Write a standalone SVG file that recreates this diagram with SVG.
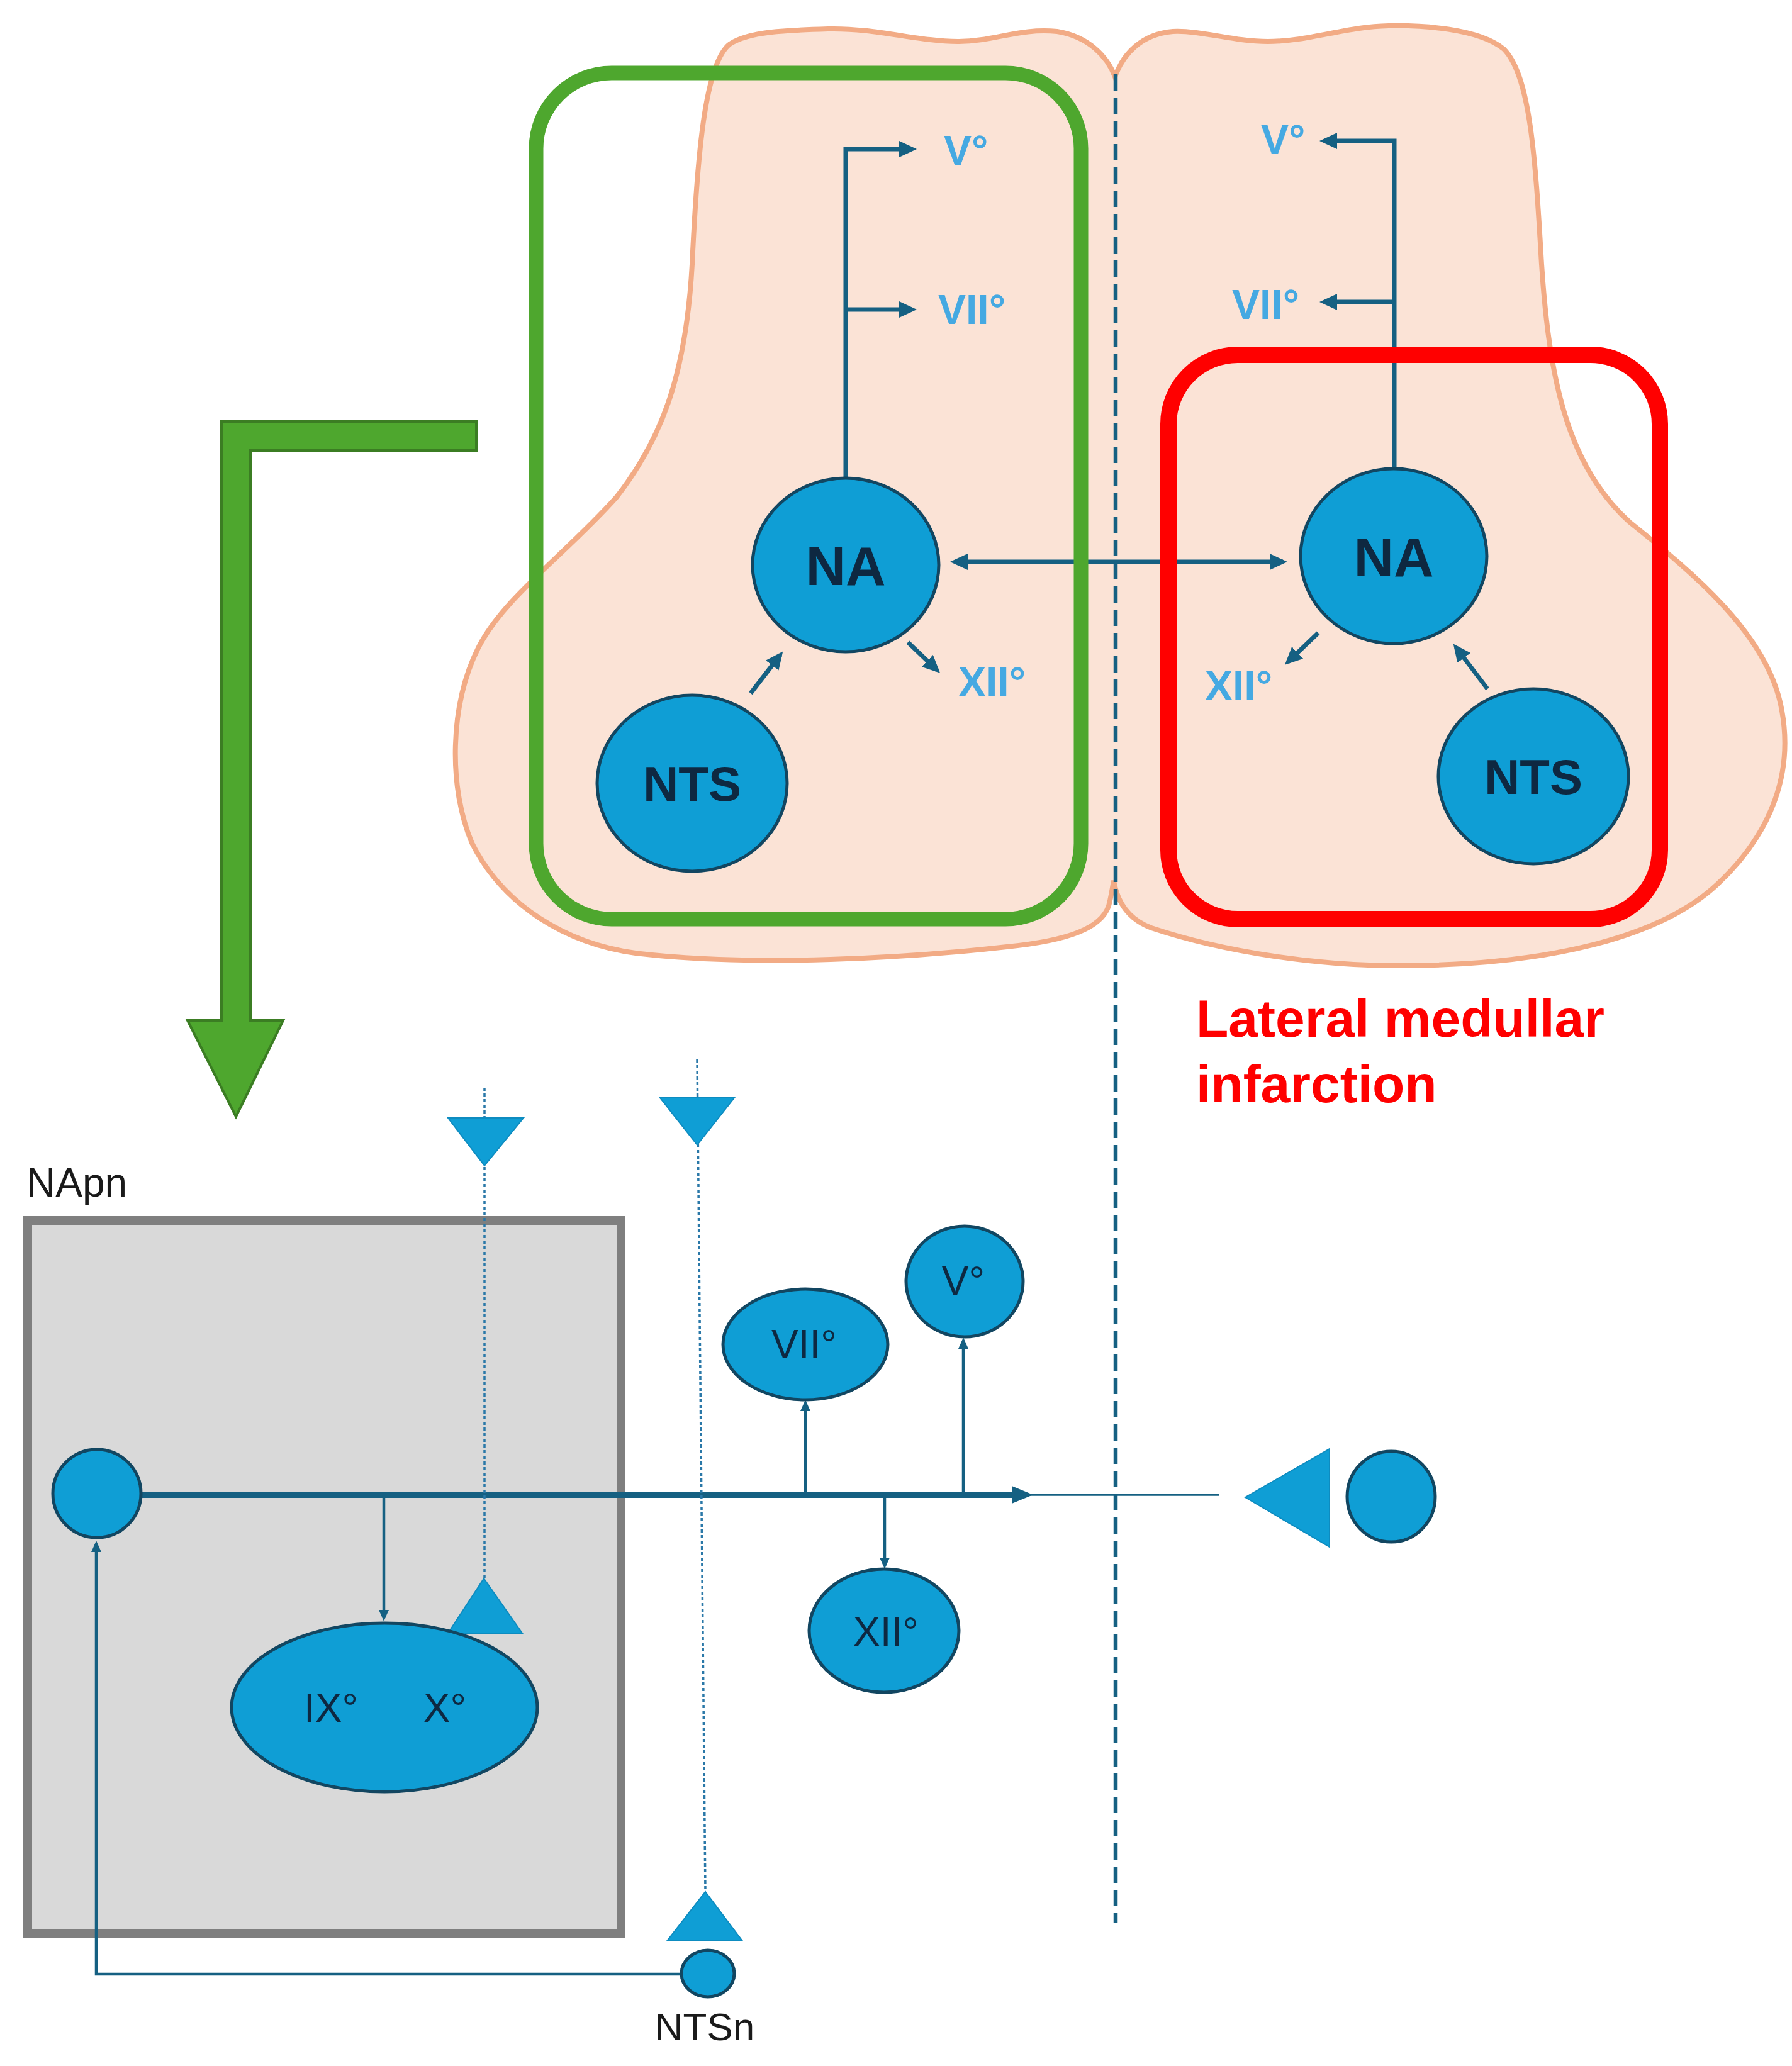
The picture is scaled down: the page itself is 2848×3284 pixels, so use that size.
<svg xmlns="http://www.w3.org/2000/svg" width="2848" height="3284" viewBox="0 0 2848 3284">
<style>
.node{fill:#0F9ED5;stroke:#124661;stroke-width:5}
.tri{fill:#0F9ED5;stroke:#0E8CC0;stroke-width:2}
.ln{fill:none;stroke:#156082;stroke-width:7}
.lnb{fill:none;stroke:#156082;stroke-width:4.5}
.dot{fill:none;stroke:#2A78A8;stroke-width:3.5;stroke-dasharray:5 4}
.big{font-family:"Liberation Sans",Arial,sans-serif;font-weight:bold;fill:#0E2841;text-anchor:middle}
.lab{font-family:"Liberation Sans",Arial,sans-serif;font-weight:bold;fill:#45A9E2;font-size:66px}
.sm{font-family:"Liberation Sans",Arial,sans-serif;fill:#0E2841;font-size:64px;text-anchor:middle}
</style>
<defs>
<marker id="ah" viewBox="0 0 28 26" refX="21" refY="13" markerWidth="28" markerHeight="26" markerUnits="userSpaceOnUse" orient="auto-start-reverse">
<path d="M0,0 L28,13 L0,26 z" fill="#156082"/>
</marker>
<marker id="ahs" viewBox="0 0 18 16" refX="13" refY="8" markerWidth="18" markerHeight="16" markerUnits="userSpaceOnUse" orient="auto">
<path d="M0,0 L18,8 L0,16 z" fill="#156082"/>
</marker>
<marker id="ahm" viewBox="0 0 34 28" refX="22" refY="14" markerWidth="34" markerHeight="28" markerUnits="userSpaceOnUse" orient="auto">
<path d="M0,0 L34,14 L0,28 z" fill="#156082"/>
</marker>
</defs>
<rect width="2848" height="3284" fill="#FFFFFF"/>

<g id="brainstem">
<path d="M1772,122 C1760,90 1730,58 1680,50 C1620,44 1580,66 1522,66 C1460,66 1390,44 1316,46 C1250,48 1190,50 1160,70 C1120,100 1108,250 1100,420 C1090,600 1050,700 980,790 C900,880 800,950 760,1030 C715,1120 712,1250 750,1340 C800,1440 900,1500 1010,1515 C1200,1538 1450,1522 1600,1505 C1700,1495 1750,1475 1762,1440 C1766,1425 1768,1410 1770,1400 C1775,1430 1790,1460 1830,1475 C1950,1515 2100,1535 2220,1535 C2460,1535 2640,1490 2730,1405 C2815,1325 2850,1230 2832,1130 C2812,1010 2690,910 2590,830 C2490,740 2462,600 2450,420 C2440,250 2432,120 2390,78 C2350,45 2260,40 2207,41 C2140,42 2080,66 2015,66 C1960,66 1910,48 1864,50 C1815,54 1785,85 1772,122 Z" fill="#FBE3D6" stroke="#F2AB85" stroke-width="8"/>
</g>

<g id="midline">
<line x1="1773" y1="118" x2="1773" y2="3057" stroke="#156082" stroke-width="6.5" stroke-dasharray="26 11"/>
</g>

<g id="connectors">
<path class="ln" d="M1344,760 V237 H1450" marker-end="url(#ah)"/>
<path class="ln" d="M1344,492 H1450" marker-end="url(#ah)"/>
<path class="ln" d="M2216,745 V224 H2104" marker-end="url(#ah)"/>
<path class="ln" d="M2216,480 H2104" marker-end="url(#ah)"/>
<path class="ln" d="M1517,893 H2039" marker-start="url(#ah)" marker-end="url(#ah)"/>
<path class="ln" d="M1193,1102 L1240,1041" marker-end="url(#ah)"/>
<path class="ln" d="M1443,1021 L1489,1065" marker-end="url(#ah)"/>
<path class="ln" d="M2095,1006 L2047,1052" marker-end="url(#ah)"/>
<path class="ln" d="M2364,1095 L2314,1029" marker-end="url(#ah)"/>
</g>

<g id="green-box">
<rect x="852" y="116" width="866" height="1345" rx="120" fill="none" stroke="#4EA72E" stroke-width="23"/>
</g>
<g id="red-box">
<rect x="1857" y="564" width="781" height="897" rx="110" fill="none" stroke="#FF0000" stroke-width="26"/>
</g>

<g id="labels-top">
<text class="lab" x="1500" y="262">V°</text>
<text class="lab" x="1491" y="515">VII°</text>
<text class="lab" x="1523" y="1107">XII°</text>
<text class="lab" x="2004" y="245">V°</text>
<text class="lab" x="1958" y="507">VII°</text>
<text class="lab" x="1915" y="1113">XII°</text>
</g>

<g id="NA-left">
<ellipse class="node" cx="1344" cy="898" rx="148" ry="138"/>
<text class="big" x="1344" y="930" font-size="88">NA</text>
</g>
<g id="NTS-left">
<ellipse class="node" cx="1100" cy="1245" rx="151" ry="140"/>
<text class="big" x="1100" y="1273" font-size="78">NTS</text>
</g>
<g id="NA-right">
<ellipse class="node" cx="2215" cy="884" rx="148" ry="139"/>
<text class="big" x="2215" y="916" font-size="88">NA</text>
</g>
<g id="NTS-right">
<ellipse class="node" cx="2437" cy="1234" rx="151" ry="139"/>
<text class="big" x="2437" y="1262" font-size="78">NTS</text>
</g>

<g id="green-arrow">
<path d="M352,670 L757,670 L757,716 L398,716 L398,1622 L450,1622 L375,1775 L298,1622 L352,1622 Z" fill="#4EA72E" stroke="#3B7D23" stroke-width="4"/>
</g>

<g id="infarction-label">
<text x="1901" y="1648" font-family="Liberation Sans, Arial, sans-serif" font-weight="bold" font-size="84" fill="#FF0000">Lateral medullar</text>
<text x="1901" y="1752" font-family="Liberation Sans, Arial, sans-serif" font-weight="bold" font-size="84" fill="#FF0000">infarction</text>
</g>

<g id="NApn">
<rect x="44" y="1940" width="943" height="1133" fill="#D9D9D9" stroke="#7F7F7F" stroke-width="14"/>
<text x="42" y="1902" font-family="Liberation Sans, Arial, sans-serif" font-size="64" fill="#1A1A1A">NApn</text>
</g>

<g id="bottom-connectors">
<path d="M223,2376 H1630" fill="none" stroke="#156082" stroke-width="10" marker-end="url(#ahm)"/>
<path d="M1630,2376 H1937" fill="none" stroke="#156082" stroke-width="3.5"/>
<path class="lnb" d="M610,2376 V2572" marker-end="url(#ahs)"/>
<path class="lnb" d="M1280,2376 V2230" marker-end="url(#ahs)"/>
<path class="lnb" d="M1531,2376 V2131" marker-end="url(#ahs)"/>
<path class="lnb" d="M1406,2376 V2489" marker-end="url(#ahs)"/>
<path class="lnb" d="M1083,3138 H153 V2454" marker-end="url(#ahs)"/>
<path class="dot" d="M770,1729 V2511"/>
<path class="dot" d="M1108,1684 L1121,3007"/>
</g>

<g id="terminals">
<polygon class="tri" points="712,1777 832,1777 770,1853"/>
<polygon class="tri" points="712,2596 830,2596 769,2509"/>
<polygon class="tri" points="1049,1745 1167,1745 1108,1820"/>
<polygon class="tri" points="1061,3084 1179,3084 1121,3007"/>
</g>

<g id="NApn-cell">
<ellipse class="node" cx="154" cy="2374" rx="70" ry="70"/>
</g>
<g id="IX-X">
<ellipse class="node" cx="611" cy="2714" rx="243" ry="134"/>
<text class="sm" x="526" y="2737">IX°</text>
<text class="sm" x="707" y="2737">X°</text>
</g>
<g id="VII-bottom">
<ellipse class="node" cx="1280" cy="2137" rx="131" ry="88"/>
<text class="sm" x="1278" y="2159">VII°</text>
</g>
<g id="V-bottom">
<ellipse class="node" cx="1533" cy="2037" rx="93" ry="88"/>
<text class="sm" x="1531" y="2058">V°</text>
</g>
<g id="XII-bottom">
<ellipse class="node" cx="1405" cy="2592" rx="119" ry="98"/>
<text class="sm" x="1408" y="2616">XII°</text>
</g>
<g id="contra">
<polygon class="tri" points="1979,2380 2113,2303 2113,2459"/>
<ellipse class="node" cx="2211" cy="2379" rx="70" ry="72"/>
</g>
<g id="NTSn">
<ellipse class="node" cx="1125" cy="3137" rx="42" ry="37"/>
<text x="1120" y="3243" font-family="Liberation Sans, Arial, sans-serif" font-size="62" fill="#1A1A1A" text-anchor="middle">NTSn</text>
</g>
</svg>
